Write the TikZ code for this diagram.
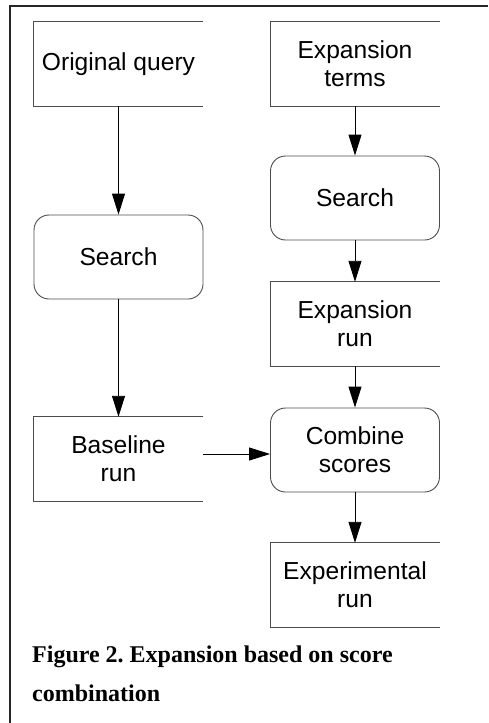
\documentclass[tikz,border=0pt]{standalone}
\usepackage{fontspec}
\setmainfont{Liberation Serif}
\newfontfamily\boxfont{Liberation Sans}
\usetikzlibrary{arrows.meta,positioning}
\frenchspacing

\begin{document}
\begin{tikzpicture}[x=1pt, y=-1pt,
    every node/.style={font=\boxfont\fontsize{24.6}{28}\selectfont, align=center},
    plainbox/.style={minimum width=169pt, minimum height=84pt, inner sep=0pt},
    roundbox/.style={plainbox, draw=black!70, rounded corners=15pt, line width=0.9pt},
    flow/.style={-{Triangle[length=21pt,width=13pt]}, line width=0.9pt}]
    \useasboundingbox (0,0) rectangle (488,723);

    % Frame (top and left only)
    \draw[line width=2pt, black!85] (488,6) -- (10,6) -- (10,723);

    % Left column
    \node[plainbox] (orig) at (118.5,64) {Original query};
    \node[roundbox] (search1) at (118.5,257) {Search};
    \node[plainbox] (base) at (118.5,459) {Baseline\\run};

    % Right column
    \node[plainbox] (terms) at (355,64) {Expansion\\terms};
    \node[roundbox] (search2) at (355,198) {Search};
    \node[plainbox] (exprun) at (355,324) {Expansion\\run};
    \node[roundbox] (combine) at (355,450) {Combine\\scores};
    \node[plainbox] (result) at (355,585) {Experimental\\run};

    % Boxes open on the right side
    \foreach \n in {orig,terms,exprun,base,result}
        \draw[black!70, line width=0.9pt] (\n.north east) -- (\n.north west) -- (\n.south west) -- (\n.south east);

    % Arrows
    \draw[flow] (orig) -- (search1);
    \draw[flow] (search1) -- (base);
    \draw[flow] (terms) -- (search2);
    \draw[flow] (search2) -- (exprun);
    \draw[flow] (exprun) -- (combine);
    \draw[flow] (combine) -- (result);
    \draw[flow] ([yshift=5pt]base.east) -- ([yshift=5pt]base.east -| combine.west);

    % Caption
    \node[anchor=north west, inner sep=0pt, align=left, font=\rmfamily\bfseries\fontsize{24}{39}\selectfont] (caption) at (32,646) {Figure 2. Expansion based on score\\combination};
\end{tikzpicture}
\end{document}
